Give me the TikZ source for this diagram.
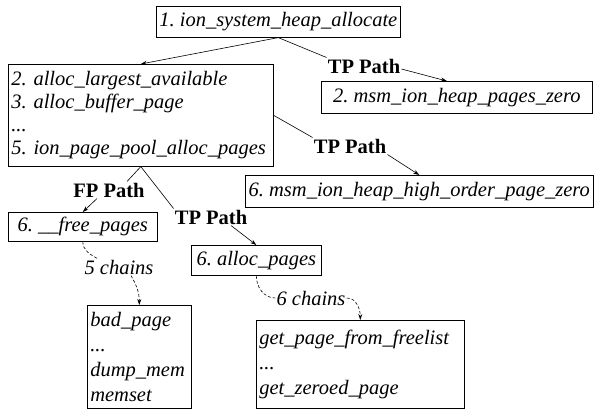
\documentclass[tikz,border=0pt]{standalone}
\usepackage{fontspec}
\setmainfont{Liberation Serif}
\usetikzlibrary{arrows.meta, positioning}
\frenchspacing

\begin{document}
\begin{tikzpicture}[x=1pt, y=-1pt, line width=0.6pt,
    func/.style={draw, anchor=north west, inner sep=3pt, align=left, font=\itshape\fontsize{20.5}{23}\selectfont},
    loose/.style={font=\itshape\fontsize{20.5}{25}\selectfont},
    pathlbl/.style={inner sep=1pt, font=\bfseries\fontsize{20.5}{23}\selectfont},
    chainlbl/.style={inner sep=1pt, font=\itshape\fontsize{20.5}{23}\selectfont},
    calledge/.style={-{Stealth[length=6pt, width=4pt]}},
    chainline/.style={dash pattern=on 3pt off 2pt}]
    \useasboundingbox (0,0) rectangle (596,410);

    % Functions
    \node[func, minimum width=244pt, minimum height=31pt] (sysheap) at (156,6) {1. ion\_system\_heap\_allocate};
    \node[func, text width=259pt, minimum height=102pt] (pool) at (8,64) {2. alloc\_largest\_available\\3. alloc\_buffer\_page\\...\\5. ion\_page\_pool\_alloc\_pages};
    \node[func, minimum width=271pt, minimum height=32pt] (zero) at (321,81) {2. msm\_ion\_heap\_pages\_zero};
    \node[func, minimum width=348pt, minimum height=32pt] (highzero) at (245,175) {6. msm\_ion\_heap\_high\_order\_page\_zero};
    \node[func, minimum width=149pt, minimum height=29pt] (freep) at (8,212) {6. \_\_free\_pages};
    \node[func, minimum width=130pt, minimum height=30pt] (allocp) at (191,245) {6. alloc\_pages};
    \node[func, loose, text width=98pt, minimum height=103pt] (badp) at (87,305) {bad\_page\\...\\dump\_mem\\memset};
    \node[func, loose, text width=202pt, minimum height=88pt] (getp) at (256,320) {get\_page\_from\_freelist\\...\\get\_zeroed\_page};

    % Path labels
    \node[pathlbl] (tp1) at (364,66) {TP Path};
    \node[pathlbl] (tp2) at (350,146) {TP Path};
    \node[pathlbl] (fp) at (109,190) {FP Path};
    \node[pathlbl] (tp3) at (211,217) {TP Path};
    \node[chainlbl] (five) at (119,267) {5 chains};
    \node[chainlbl] (six) at (311,298) {6 chains};

    % Calls
    \draw[calledge] (sysheap.south) -- (pool.north);
    \draw (sysheap.south) -- (tp1.north west);
    \draw[calledge] ([yshift=-3pt]tp1.east) -- ([xshift=-10pt]zero.north);
    \draw (pool.east) -- (tp2.north west);
    \draw[calledge] (tp2.south east) -- (highzero.north);
    \draw (pool.south) -- ([xshift=18pt]fp.north);
    \draw (pool.south) -- (tp3.north west);
    \draw[calledge] ([xshift=-12pt]fp.south) -- (freep.north);
    \draw[calledge] ([xshift=20pt]tp3.south) -- (allocp.north);

    % Chains
    \draw[chainline] (freep.south) to[out=-90, in=150] ([xshift=14pt]five.north west);
    \draw[chainline, calledge] ([xshift=12pt]five.south) to[out=-60, in=90] (badp.north);
    \draw[chainline] (allocp.south) to[out=-90, in=180] (six.west);
    \draw[chainline, calledge] (six.east) to[out=0, in=90] (getp.north);
\end{tikzpicture}
\end{document}
